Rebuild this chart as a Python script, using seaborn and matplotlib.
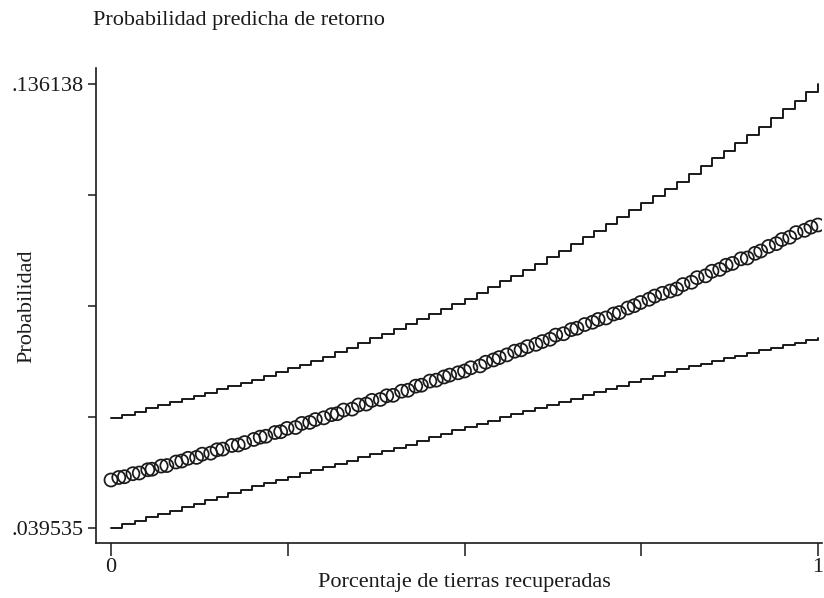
import matplotlib
matplotlib.use("Agg")
import matplotlib.pyplot as plt
import seaborn as sns
import pandas as pd

# ---------------- data ----------------
x_line = [0.000, 0.016, 0.034, 0.050, 0.067, 0.083, 0.101, 0.117, 0.133, 0.150,
          0.166, 0.184, 0.200, 0.216, 0.233, 0.250, 0.267, 0.283, 0.300, 0.317,
          0.334, 0.350, 0.366, 0.383, 0.400, 0.417, 0.433, 0.450, 0.467, 0.483,
          0.500, 0.517, 0.533, 0.550, 0.566, 0.583, 0.600, 0.617, 0.634, 0.650,
          0.667, 0.683, 0.700, 0.716, 0.733, 0.750, 0.767, 0.783, 0.800, 0.817,
          0.834, 0.850, 0.867, 0.883, 0.900, 0.916, 0.933, 0.950, 0.967, 0.983,
          1.000]
upper_ci = [0.06347, 0.06416, 0.06485, 0.06554, 0.06622, 0.06691, 0.06760, 0.06829, 0.06898, 0.06967,
            0.07036, 0.07105, 0.07174, 0.07257, 0.07341, 0.07424, 0.07507, 0.07591, 0.07674, 0.07776,
            0.07877, 0.07979, 0.08080, 0.08182, 0.08283, 0.08392, 0.08501, 0.08610, 0.08718, 0.08827,
            0.08936, 0.09063, 0.09190, 0.09317, 0.09444, 0.09571, 0.09698, 0.09843, 0.09988, 0.10133,
            0.10278, 0.10423, 0.10568, 0.10720, 0.10873, 0.11025, 0.11177, 0.11330, 0.11482, 0.11652,
            0.11823, 0.11993, 0.12163, 0.12334, 0.12504, 0.12689, 0.12874, 0.13059, 0.13244, 0.13429,
            0.136138]
lower_ci = [0.039535, 0.04030, 0.04106, 0.04182, 0.04258, 0.04334, 0.04410, 0.04486, 0.04562, 0.04638,
            0.04715, 0.04791, 0.04867, 0.04936, 0.05005, 0.05074, 0.05143, 0.05212, 0.05281, 0.05350,
            0.05419, 0.05488, 0.05556, 0.05625, 0.05694, 0.05770, 0.05846, 0.05923, 0.05999, 0.06075,
            0.06151, 0.06220, 0.06289, 0.06358, 0.06426, 0.06495, 0.06564, 0.06633, 0.06702, 0.06771,
            0.06840, 0.06909, 0.06978, 0.07051, 0.07123, 0.07196, 0.07268, 0.07341, 0.07413, 0.07471,
            0.07529, 0.07587, 0.07645, 0.07703, 0.07761, 0.07816, 0.07870, 0.07925, 0.07979, 0.08034,
            0.08088]

x_pts = [0.000, 0.011, 0.019, 0.031, 0.040, 0.052, 0.058, 0.071, 0.079, 0.092,
         0.100, 0.109, 0.121, 0.129, 0.141, 0.150, 0.158, 0.171, 0.180, 0.189,
         0.202, 0.211, 0.219, 0.232, 0.240, 0.249, 0.261, 0.270, 0.281, 0.289,
         0.301, 0.312, 0.320, 0.329, 0.341, 0.350, 0.361, 0.369, 0.381, 0.390,
         0.399, 0.411, 0.420, 0.431, 0.439, 0.451, 0.460, 0.471, 0.479, 0.491,
         0.500, 0.509, 0.522, 0.530, 0.541, 0.549, 0.560, 0.571, 0.580, 0.589,
         0.601, 0.610, 0.621, 0.629, 0.640, 0.651, 0.659, 0.670, 0.681, 0.689,
         0.700, 0.711, 0.719, 0.731, 0.740, 0.749, 0.761, 0.769, 0.780, 0.791,
         0.800, 0.809, 0.821, 0.829, 0.841, 0.850, 0.861, 0.870, 0.879, 0.891,
         0.900, 0.911, 0.919, 0.930, 0.941, 0.949, 0.960, 0.969, 0.981, 0.990,
         1.000]
pred_prob = [0.04998, 0.05052, 0.05069, 0.05135, 0.05150, 0.05221, 0.05232, 0.05301, 0.05312, 0.05389,
             0.05411, 0.05470, 0.05490, 0.05560, 0.05582, 0.05655, 0.05670, 0.05749, 0.05760, 0.05812,
             0.05880, 0.05930, 0.05950, 0.06031, 0.06048, 0.06120, 0.06140, 0.06229, 0.06251, 0.06312,
             0.06350, 0.06420, 0.06440, 0.06520, 0.06540, 0.06630, 0.06650, 0.06730, 0.06750, 0.06830,
             0.06840, 0.06930, 0.06950, 0.07040, 0.07060, 0.07150, 0.07170, 0.07240, 0.07280, 0.07330,
             0.07369, 0.07440, 0.07480, 0.07560, 0.07610, 0.07660, 0.07720, 0.07800, 0.07830, 0.07900,
             0.07950, 0.08010, 0.08060, 0.08150, 0.08180, 0.08270, 0.08300, 0.08380, 0.08430, 0.08490,
             0.08523, 0.08610, 0.08640, 0.08740, 0.08790, 0.08860, 0.08930, 0.09000, 0.09060, 0.09110,
             0.09154, 0.09250, 0.09300, 0.09400, 0.09440, 0.09540, 0.09580, 0.09670, 0.09710, 0.09810,
             0.09828, 0.09930, 0.09980, 0.10080, 0.10140, 0.10230, 0.10280, 0.10380, 0.10430, 0.10500,
             0.10546]

y_ticks = [0.039535, 0.063686, 0.087837, 0.111987, 0.136138]
y_ticklabels = [".039535", "", "", "", ".136138"]
x_ticks = [0, 0.25, 0.5, 0.75, 1]
x_ticklabels = ["0", "", "", "", "1"]

title = "Probabilidad predicha de retorno"
xlabel = "Porcentaje de tierras recuperadas"
ylabel = "Probabilidad"

# ---------------- style ----------------
sns.set_theme(style="ticks")
plt.rcParams["font.family"] = ["Liberation Serif", "DejaVu Serif"]
ink = "#1a1a1a"
fs = 16

fig = plt.figure(figsize=(8.24, 5.98), dpi=100)
W, H = 824, 598
ax = fig.add_axes([96 / W, 1 - 543 / H, (822 - 96) / W, (543 - 68) / H])

lines_df = pd.DataFrame({"x": x_line, "upper": upper_ci, "lower": lower_ci})
pts_df = pd.DataFrame({"x": x_pts, "p": pred_prob})

sns.lineplot(data=lines_df, x="x", y="upper", ax=ax, color=ink, lw=1.4,
             drawstyle="steps-post", estimator=None)
sns.lineplot(data=lines_df, x="x", y="lower", ax=ax, color=ink, lw=1.4,
             drawstyle="steps-post", estimator=None)
sns.scatterplot(data=pts_df, x="x", y="p", ax=ax, marker="o", s=88,
                facecolor="none", edgecolor=ink, linewidth=1.25)
for c in ax.collections:
    c.set_facecolor("none")
    c.set_edgecolor(ink)

x0, x1 = 111, 818
y0, y1 = 528, 84
sx = 1.0 / (x1 - x0)
sy = (0.136138 - 0.039535) / (y0 - y1)
ax.set_xlim(0 - (x0 - 96) * sx, 1 + (822 - x1) * sx)
ax.set_ylim(0.039535 - (543 - y0) * sy, 0.136138 + (y1 - 68) * sy)

ax.set_xticks(x_ticks)
ax.set_xticklabels(x_ticklabels)
ax.set_yticks(y_ticks)
ax.set_yticklabels(y_ticklabels)
ax.tick_params(axis="x", direction="out", length=9, width=1.1, color=ink,
               labelsize=fs, labelcolor=ink, pad=2)
ax.tick_params(axis="y", direction="out", length=6, width=1.1, color=ink,
               labelsize=fs, labelcolor=ink, pad=3)

for side in ["top", "right"]:
    ax.spines[side].set_visible(False)
for side in ["left", "bottom"]:
    ax.spines[side].set_color(ink)
    ax.spines[side].set_linewidth(1.2)

ax.set_xlabel("")
ax.set_ylabel("")
fig.text(464 / W, 1 - 583 / H, xlabel, ha="center", va="center", fontsize=fs, color=ink)
fig.text(27 / W, 1 - 306 / H, ylabel, ha="center", va="center", rotation=90,
         fontsize=fs, color=ink)
fig.text(93 / W, 1 - 21 / H, title, ha="left", va="center", fontsize=fs, color=ink)

fig.savefig("out.png", dpi=100, facecolor="white")
